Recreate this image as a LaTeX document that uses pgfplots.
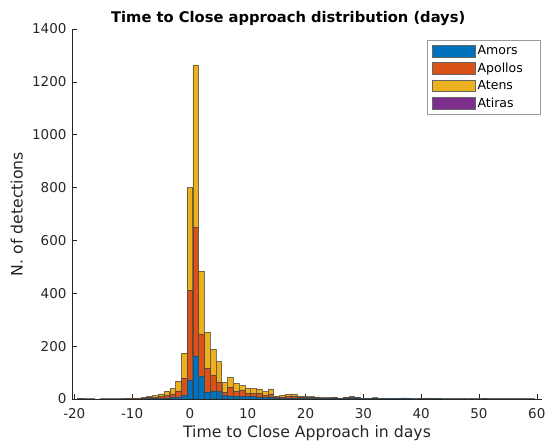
\documentclass[border=0pt]{standalone}
\usepackage{fontspec}
\setmainfont{DejaVu Sans}
\usepackage{pgfplots}
\pgfplotsset{compat=1.18}
\usepackage{pgfplotstable}
\definecolor{amors}{RGB}{0,114,189}
\definecolor{apollos}{RGB}{217,83,25}
\definecolor{atens}{RGB}{237,177,32}
\definecolor{atiras}{RGB}{126,47,142}
\definecolor{axgray}{RGB}{38,38,38}

\pgfplotstableread{
x am ap at
-19 0 1 1
-18 0 0 1
-17 0 0 1
-16 0 0 0
-15 0 0 1
-14 0 0 1
-13 0 0 1
-12 0 1 0
-11 0 1 1
-10 0 1 1
-9 0 2 2
-8 1 3 3
-7 1 4 5
-6 2 5 6
-5 2 7 10
-4 3 12 15
-3 5 14 21
-2 8 23 37
-1 15 63 96
0 72 340 388
1 163 487 614
2 86 159 239
3 27 88 138
4 31 60 97
5 29 36 76
6 13 12 38
7 12 32 38
8 12 16 31
9 10 22 19
10 10 12 20
11 9 12 18
12 8 13 17
13 6 8 14
14 8 11 18
15 3 4 4
16 3 5 7
17 4 6 8
18 4 7 8
19 3 5 4
20 3 4 3
21 2 4 3
22 2 3 3
23 2 2 2
24 2 2 2
25 2 3 2
26 1 2 1
27 3 2 2
28 4 3 3
29 3 2 1
30 1 1 0
31 2 1 0
32 3 1 1
33 1 1 0
34 1 1 0
35 2 1 0
36 2 1 0
37 3 1 0
38 2 1 0
39 1 0 0
40 1 1 0
41 1 2 1
42 1 1 0
43 2 1 0
44 1 0 0
45 1 0 0
46 1 0 0
47 1 0 0
48 0 1 0
49 1 0 0
50 1 0 0
51 1 1 0
52 1 0 0
53 0 1 0
54 1 0 0
55 1 0 0
56 1 0 0
57 0 1 0
58 1 0 0
59 1 0 0
}\datatable

\begin{document}
\begin{tikzpicture}
\path[use as bounding box] (0pt,0pt) rectangle (547pt,444pt);
\begin{axis}[
  at={(72pt,45pt)}, anchor=south west,
  scale only axis, width=470pt, height=370pt,
  xmin=-20.4, xmax=60.9, ymin=0, ymax=1400,
  axis x line*=bottom, axis y line*=left,
  axis line style={axgray, line width=0.6pt},
  xtick={-20,-10,...,60}, ytick={0,200,...,1400},
  tick align=inside, major tick length=5pt,
  tick style={axgray, line width=0.6pt},
  /pgf/number format/assume math mode=true,
  /pgf/number format/set thousands separator={},
  ticklabel style={font=\fontsize{13.5}{16}\selectfont, text=axgray},
  xticklabel style={yshift=-6pt},
  yticklabel style={xshift=-2pt},
  title={\textbf{Time to Close approach distribution (days)}},
  title style={font=\fontsize{14.7}{17}\selectfont, at={(axis description cs:0.46,1)}, anchor=base, yshift=0pt},
  xlabel={Time to Close Approach in days},
  xlabel style={font=\fontsize{15.7}{18}\selectfont, text=axgray, at={(axis description cs:0.5,0)}, anchor=base, yshift=-39pt},
  ylabel={N. of detections},
  ylabel style={font=\fontsize{15.7}{18}\selectfont, text=axgray, at={(axis description cs:-0.105,0.5)}, anchor=base},
  ybar stacked, bar width=0.97,
  every axis plot/.append style={draw=black!75, draw opacity=0.7, line width=0.5pt},
  legend image code/.code={\draw[#1, draw opacity=1, draw=black!60] (0pt,-5.75pt) rectangle (43pt,5.75pt);},
  legend style={at={(axis description cs:0.996,0.970)}, anchor=north east,
    draw=black!40, line width=0.5pt, font=\fontsize{12.5}{14}\selectfont,
    row sep=2.5pt, inner xsep=5pt, inner ysep=3.5pt,
    /tikz/every even column/.append style={column sep=0pt}},
  legend cell align=left,
]
\addplot[fill=amors] table[x=x, y=am] {\datatable};
\addplot[fill=apollos] table[x=x, y=ap] {\datatable};
\addplot[fill=atens] table[x=x, y=at] {\datatable};
\addlegendimage{fill=atiras, draw=black!60}
\legend{Amors, Apollos\hspace*{10pt}, Atens, Atiras}
\end{axis}
\end{tikzpicture}
\end{document}
